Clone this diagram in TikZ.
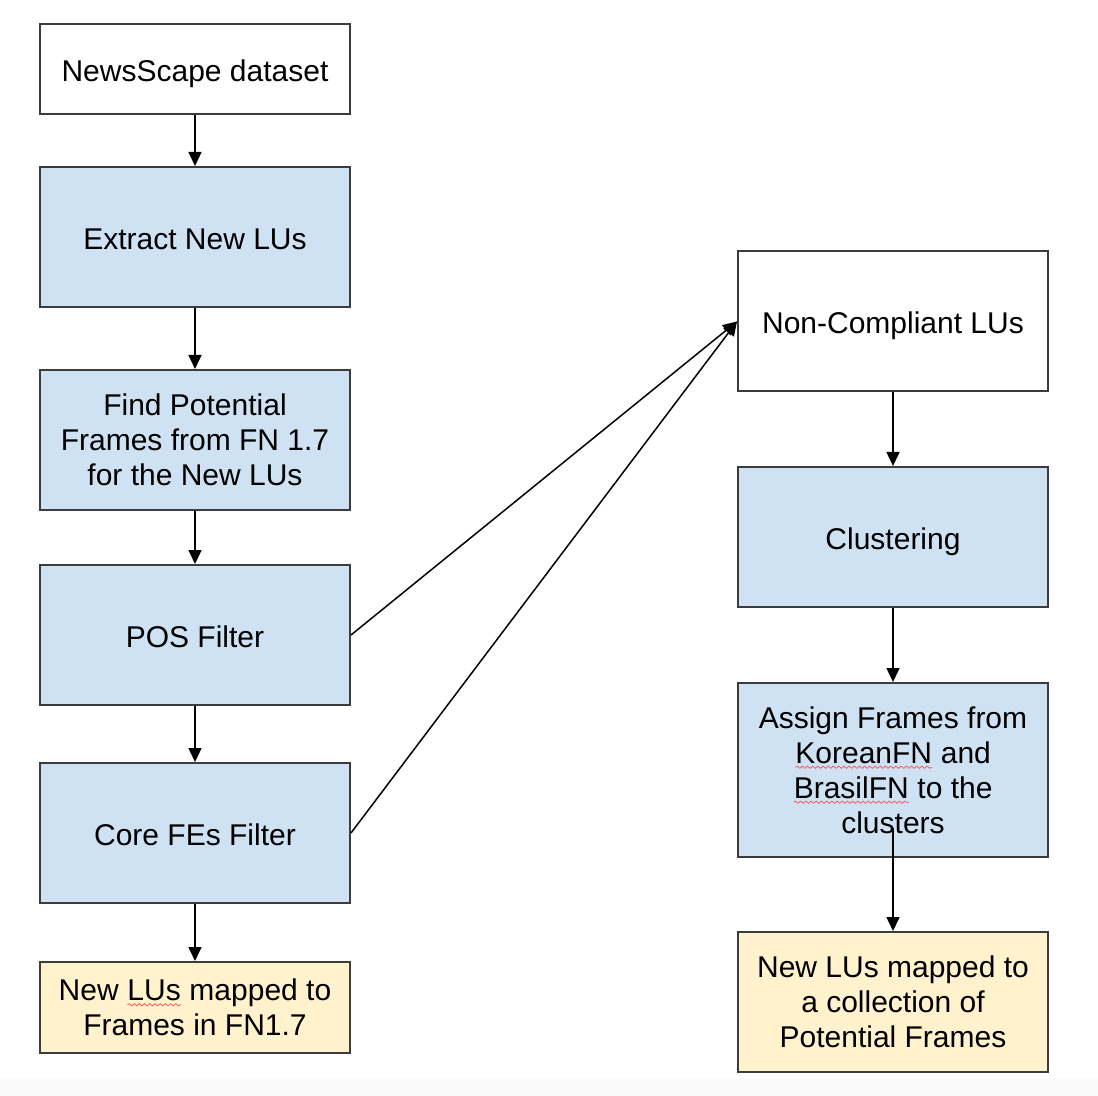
\documentclass[tikz,border=0pt]{standalone}
\usepackage{fontspec}
\setmainfont{Liberation Sans}
\usepackage{tikz}
\usetikzlibrary{arrows,arrows.meta,decorations.pathmorphing}
\definecolor{stepblue}{HTML}{CFE2F3}
\definecolor{outyellow}{HTML}{FFF2CC}
\definecolor{boxline}{HTML}{3C3C3C}
\newcommand\spellmark[1]{\tikz[baseline=(spellw.base)]{\node[draw=none,fill=none,minimum width=0pt,minimum height=0pt,
    inner sep=0pt,outer sep=0pt] (spellw) {#1};
  \draw[red!70,line width=0.35pt,decorate,decoration={snake,amplitude=0.55pt,segment length=2.6pt}]
    ([yshift=-2pt]spellw.base west) -- ([yshift=-2pt]spellw.base east);}}

\begin{document}
\begin{tikzpicture}[x=0.5pt,y=-0.5pt]
\tikzset{box/.style={draw=boxline,line width=1pt,minimum width=155pt,minimum height=70pt,align=center,
    font=\fontsize{15pt}{17.5pt}\selectfont,inner sep=0pt},
  oneline/.style={text height=13.5pt,text depth=1.2pt},
  stepbox/.style={box,fill=stepblue},
  endbox/.style={box,fill=outyellow},
  flow/.style={line width=0.75pt,-{Triangle[length=7pt,width=6.5pt]}}}
\useasboundingbox (0,0) rectangle (1098,1096);
\fill[black!2] (0,1078) rectangle (1098,1096);
% left column
\node[box,oneline,minimum height=45pt] (news) at (195,69) {NewsScape dataset};
\node[stepbox,oneline] (extract) at (195,237) {Extract New LUs};
\node[stepbox] (find) at (195,440) {Find Potential\\Frames from FN 1.7\\for the New LUs};
\node[stepbox,oneline] (pos) at (195,635) {POS Filter};
\node[stepbox,oneline] (core) at (195,833) {Core FEs Filter};
\node[endbox,minimum height=45.5pt] (mapped) at (195,1007.5) {New \spellmark{LUs} mapped to\\Frames in FN1.7};
% right column
\node[box,oneline] (noncomp) at (893,321.5) {Non-Compliant LUs};
\node[stepbox,oneline] (clust) at (893,537) {Clustering};
\node[stepbox,minimum height=87pt] (assign) at (893,770) {Assign Frames from\\\spellmark{KoreanFN} and\\\spellmark{BrasilFN} to the\\clusters};
\node[endbox] (coll) at (893,1002) {New LUs mapped to\\a collection of\\Potential Frames};
\coordinate (assignout) at (893,828);

\draw[flow] (news) -- (extract);
\draw[flow] (extract) -- (find);
\draw[flow] (find) -- (pos);
\draw[flow] (pos) -- (core);
\draw[flow] (core) -- (mapped);
\draw[flow] (pos.east) -- (noncomp.west);
\draw[flow] (core.east) -- (noncomp.west);
\draw[flow] (noncomp) -- (clust);
\draw[flow] (clust) -- (assign);
\draw[flow] (assignout) -- (coll);
\end{tikzpicture}
\end{document}
